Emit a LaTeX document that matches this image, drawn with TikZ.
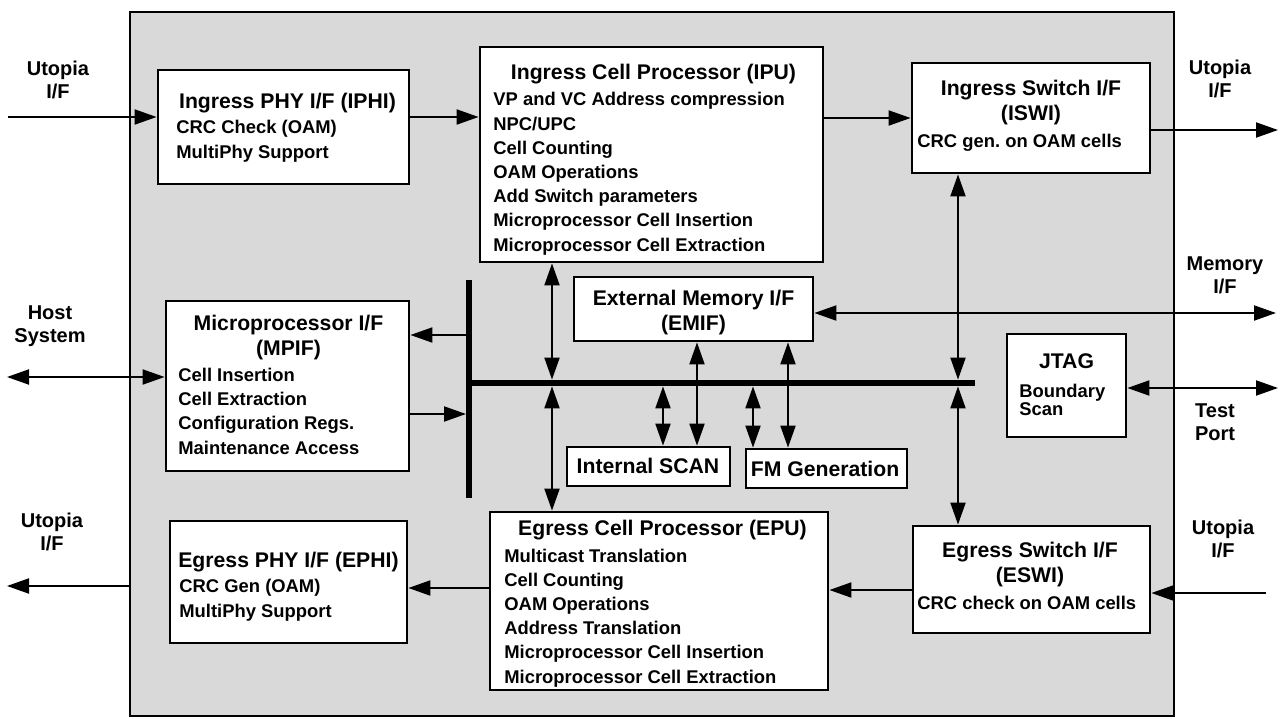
\documentclass[tikz,border=0pt]{standalone}
\usepackage{fontspec}
\setmainfont{Liberation Sans}
\usetikzlibrary{arrows.meta}
\frenchspacing
\tikzstyle{chip}=[draw, line width=1.3pt, fill=black!15, inner sep=0pt]
\tikzstyle{block}=[draw, line width=1.4pt, fill=white, inner sep=0pt]
\tikzstyle{busbar}=[fill=black, inner sep=0pt]
\tikzstyle{title}=[anchor=base, inner sep=0pt, align=center, font=\fontsize{10.6}{12.5}\selectfont\bfseries]
\tikzstyle{items}=[anchor=base west, inner sep=0pt, align=left, font=\fontsize{9.2}{12.1}\selectfont\bfseries]
\tikzstyle{port}=[anchor=base, inner sep=0pt, align=center, font=\fontsize{10}{11.5}\selectfont\bfseries]
\tikzstyle{link}=[line width=1pt, -{Triangle[length=11pt, width=7.5pt]}]
\tikzstyle{duplex}=[line width=1pt, {Triangle[length=11pt, width=7.5pt]}-{Triangle[length=11pt, width=7.5pt]}]

\begin{document}
\begin{tikzpicture}[x=0.5pt, y=-0.5pt]
    \useasboundingbox (0,0) rectangle (1280,718);
    \node[chip, minimum width=522pt, minimum height=352pt] (chip) at (652,364) {};

    \node[block, minimum width=125.5pt, minimum height=57pt]   (iphi)  at (283.5,127)   {};
    \node[block, minimum width=171.5pt, minimum height=107.5pt] (ipu)  at (651.5,154.5) {};
    \node[block, minimum width=119pt,   minimum height=55pt]   (iswi)  at (1031,118)    {};
    \node[block, minimum width=121.5pt, minimum height=85pt]   (mpif)  at (287.5,386)   {};
    \node[block, minimum width=119.5pt, minimum height=32pt]   (emif)  at (693.5,309)   {};
    \node[block, minimum width=81.5pt,  minimum height=19.5pt] (iscan) at (648.5,466.5) {};
    \node[block, minimum width=80.5pt,  minimum height=19.5pt] (fmgen) at (826.5,468.5) {};
    \node[block, minimum width=59.5pt,  minimum height=51.5pt] (jtag)  at (1066.5,385.5) {};
    \node[block, minimum width=118.5pt, minimum height=61pt]   (ephi)  at (288.5,582)   {};
    \node[block, minimum width=169pt,   minimum height=89pt]   (epu)   at (659,601)     {};
    \node[block, minimum width=118.5pt, minimum height=53.5pt] (eswi)  at (1031.5,579.5) {};

    \node[busbar, minimum width=2.6pt, minimum height=109pt] (bar) at (469,389) {};
    \node[busbar, minimum width=253.5pt, minimum height=3pt] (bus) at (721.5,383) {};

    \node[title] (iphi-t)  at (287.5,108)  {Ingress PHY I/F (IPHI)};
    \node[items] (iphi-l)  at (176,158)    {CRC Check (OAM)\\MultiPhy Support};
    \node[title] (ipu-t)   at (653.5,79)   {Ingress Cell Processor (IPU)};
    \node[items] (ipu-l)   at (493,251)    {VP and VC Address compression\\NPC/UPC\\Cell Counting\\OAM Operations\\Add Switch parameters\\Microprocessor Cell Insertion\\Microprocessor Cell Extraction};
    \node[title] (iswi-t)  at (1031,120)   {Ingress Switch I/F\\(ISWI)};
    \node[items] (iswi-l)  at (917,147)    {CRC gen. on OAM cells};
    \node[title] (mpif-t)  at (288.5,355)  {Microprocessor I/F\\(MPIF)};
    \node[items] (mpif-l)  at (178,454)    {Cell Insertion\\Cell Extraction\\Configuration Regs.\\Maintenance Access};
    \node[title] (emif-t)  at (693.5,330)  {External Memory I/F\\(EMIF)};
    \node[title] (iscan-t) at (648,473)    {Internal SCAN};
    \node[title] (fmgen-t) at (825,476)    {FM Generation};
    \node[title] (jtag-t)  at (1066.5,368) {JTAG};
    \node[items, font=\fontsize{9.2}{9}\selectfont\bfseries] (jtag-l) at (1019,415) {Boundary\\Scan};
    \node[title] (ephi-t)  at (288.5,567)  {Egress PHY I/F (EPHI)};
    \node[items] (ephi-l)  at (179,617)    {CRC Gen (OAM)\\MultiPhy Support};
    \node[title] (epu-t)   at (662.5,535)  {Egress Cell Processor (EPU)};
    \node[items] (epu-l)   at (504,683)    {Multicast Translation\\Cell Counting\\OAM Operations\\Address Translation\\Microprocessor Cell Insertion\\Microprocessor Cell Extraction};
    \node[title] (eswi-t)  at (1030,582)   {Egress Switch I/F\\(ESWI)};
    \node[items] (eswi-l)  at (917,609)    {CRC check on OAM cells};

    \node[port] (ul-lab)   at (58,98)    {Utopia\\I/F};
    \node[port] (host-lab) at (50,342)   {Host\\System};
    \node[port] (ll-lab)   at (52,550)   {Utopia\\I/F};
    \node[port] (ur-lab)   at (1220,97)  {Utopia\\I/F};
    \node[port] (mem-lab)  at (1225,293) {Memory\\I/F};
    \node[port] (test-lab) at (1215,440) {Test\\Port};
    \node[port] (lr-lab)   at (1223,557) {Utopia\\I/F};

    \coordinate (uin)  at (8,117);
    \coordinate (uout) at (1278,130);
    \coordinate (mem)  at (1276,313);
    \coordinate (test) at (1278,388);
    \coordinate (host) at (7,377);
    \coordinate (ein)  at (1266,593);
    \coordinate (eout) at (7,586);

    \draw[link]   (uin) -- (iphi.west |- uin);
    \draw[link]   (iphi.east |- 0,117) -- (ipu.west |- 0,117);
    \draw[link]   (ipu.east |- 0,118) -- (iswi.west |- 0,118);
    \draw[link]   (iswi.east |- uout) -- (uout);
    \draw[duplex] (emif.east |- mem) -- (mem);
    \draw[duplex] (jtag.east |- test) -- (test);
    \draw[link]   (ein) -- (eswi.east |- ein);
    \draw[link]   (eswi.west |- 0,590) -- (epu.east |- 0,590);
    \draw[link]   (epu.west |- 0,588) -- (ephi.east |- 0,588);
    \draw[link]   (chip.west |- eout) -- (eout);
    \draw[duplex] (host) -- (mpif.west |- host);
    \draw[link]   (bar.west |- 0,335) -- (mpif.east |- 0,335);
    \draw[link]   (mpif.east |- 0,414) -- (bar.west |- 0,414);

    \draw[duplex] (ipu.south -| 552,0) -- (bus.north -| 552,0);
    \draw[duplex] (bus.south -| 552,0) -- (epu.north -| 552,0);
    \draw[duplex] (iswi.south -| 958,0) -- (bus.north -| 958,0);
    \draw[duplex] (bus.south -| 958,0) -- (eswi.north -| 958,0);
    \draw[duplex] (emif.south -| 697,0) -- (iscan.north -| 697,0);
    \draw[duplex] (emif.south -| 788,0) -- (fmgen.north -| 788,0);
    \draw[duplex] (bus.south -| 663,0) -- (iscan.north -| 663,0);
    \draw[duplex] (bus.south -| 753,0) -- (fmgen.north -| 753,0);
\end{tikzpicture}
\end{document}
